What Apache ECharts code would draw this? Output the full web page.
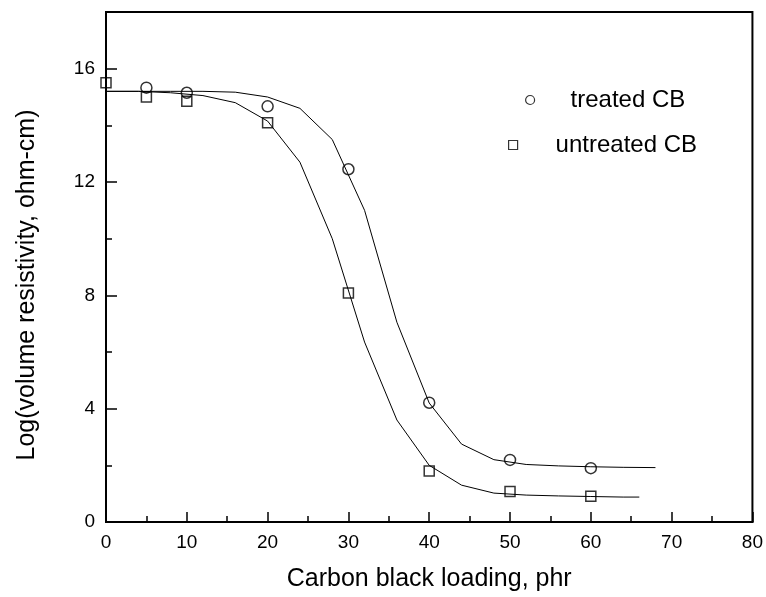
<!DOCTYPE html>
<html>
<head>
<meta charset="utf-8">
<script src="https://cdn.jsdelivr.net/npm/echarts@6/dist/echarts.min.js"></script>
<style>
html,body{margin:0;padding:0;background:#fff;}
#chart{width:766px;height:597px;}
</style>
</head>
<body>
<div id="chart"></div>
<script>
// Measured data points
const treatedX = [5, 10, 20, 30, 40, 50, 60];
const treatedY = [15.33, 15.15, 14.67, 12.45, 4.21, 2.19, 1.9];
const untreatedX = [0, 5, 10, 20, 30, 40, 50, 60];
const untreatedY = [15.5, 15.0, 14.85, 14.09, 8.08, 1.8, 1.08, 0.91];

// Fitted curves
const treatedFitX = [0, 4, 8, 12, 16, 20, 24, 28, 32, 36, 40, 44, 48, 52, 56, 60, 64, 68];
const treatedFitY = [15.2, 15.2, 15.2, 15.2, 15.17, 15.0, 14.6, 13.5, 11.0, 7.05, 4.2, 2.75, 2.2, 2.03, 1.98, 1.95, 1.93, 1.92];
const untreatedFitX = [0, 4, 8, 12, 16, 20, 24, 28, 32, 36, 40, 44, 48, 52, 56, 60, 64, 66];
const untreatedFitY = [15.2, 15.2, 15.15, 15.05, 14.8, 14.15, 12.7, 10.0, 6.35, 3.6, 2.0, 1.3, 1.02, 0.95, 0.92, 0.9, 0.88, 0.88];

const seriesNames = ['treated CB', 'untreated CB'];
const xTitle = 'Carbon black loading, phr';
const yTitle = 'Log(volume resistivity, ohm-cm)';

function pairs(xs, ys) { return xs.map((x, i) => [x, ys[i]]); }

const FONT = '"Liberation Sans", Arial, Helvetica, sans-serif';
const chart = echarts.init(document.getElementById('chart'), null, {renderer: 'canvas'});

const markerStyle = {color: 'rgba(0,0,0,0)', borderColor: '#000', borderWidth: 1.5};

chart.setOption({
  backgroundColor: '#fff',
  animation: false,
  grid: {left: 106, right: 12, top: 12, bottom: 73, show: true, borderColor: '#000', borderWidth: 2, backgroundColor: 'transparent'},
  legend: [
    {
      data: [{name: seriesNames[0], icon: 'circle'}],
      left: 525, top: 88, padding: 0, itemWidth: 9, itemHeight: 9,
      itemStyle: {color: '#fff', borderColor: '#000', borderWidth: 1.2},
      textStyle: {fontFamily: FONT, fontSize: 24, color: '#000', padding: [0, 0, 0, 31]},
      selectedMode: false
    },
    {
      data: [{name: seriesNames[1], icon: 'rect'}],
      left: 508, top: 133, padding: 0, itemWidth: 9, itemHeight: 9,
      itemStyle: {color: '#fff', borderColor: '#000', borderWidth: 1.2},
      textStyle: {fontFamily: FONT, fontSize: 24, color: '#000', padding: [0, 0, 0, 33]},
      selectedMode: false
    }
  ],
  xAxis: {
    type: 'value', min: 0, max: 80, interval: 10,
    name: xTitle, nameLocation: 'middle', nameGap: 45,
    nameTextStyle: {fontFamily: FONT, fontSize: 25, color: '#000'},
    axisLine: {show: true, lineStyle: {color: '#000', width: 2}},
    axisTick: {show: true, inside: true, length: 10, lineStyle: {color: '#000', width: 1.5}},
    minorTick: {show: true, splitNumber: 2, length: 6, lineStyle: {color: '#000', width: 1.5}},
    axisLabel: {fontFamily: FONT, fontSize: 19, color: '#000', margin: 11},
    splitLine: {show: false}
  },
  yAxis: {
    type: 'value', min: 0, max: 18, interval: 4,
    name: yTitle, nameLocation: 'middle', nameGap: 66, nameRotate: 90,
    nameTextStyle: {fontFamily: FONT, fontSize: 25, color: '#000', padding: [0, 36, 0, 0]},
    axisLine: {show: true, lineStyle: {color: '#000', width: 2}},
    axisTick: {show: true, inside: true, length: 11, lineStyle: {color: '#000', width: 1.5}},
    minorTick: {show: true, splitNumber: 2, length: 6, lineStyle: {color: '#000', width: 1.5}},
    axisLabel: {fontFamily: FONT, fontSize: 19, color: '#000', margin: 11, showMaxLabel: false},
    splitLine: {show: false}
  },
  series: [
    {
      name: seriesNames[0] + ' fit', type: 'line', data: pairs(treatedFitX, treatedFitY),
      showSymbol: false, symbol: 'none', smooth: false,
      lineStyle: {color: '#000', width: 1}, z: 2
    },
    {
      name: seriesNames[1] + ' fit', type: 'line', data: pairs(untreatedFitX, untreatedFitY),
      showSymbol: false, symbol: 'none', smooth: false,
      lineStyle: {color: '#000', width: 1}, z: 2
    },
    {
      name: seriesNames[0], type: 'scatter', data: pairs(treatedX, treatedY),
      symbol: 'circle', symbolSize: 11, itemStyle: markerStyle, z: 3
    },
    {
      name: seriesNames[1], type: 'scatter', data: pairs(untreatedX, untreatedY),
      symbol: 'rect', symbolSize: 10, itemStyle: markerStyle, z: 3
    }
  ]
});
</script>
</body>
</html>
